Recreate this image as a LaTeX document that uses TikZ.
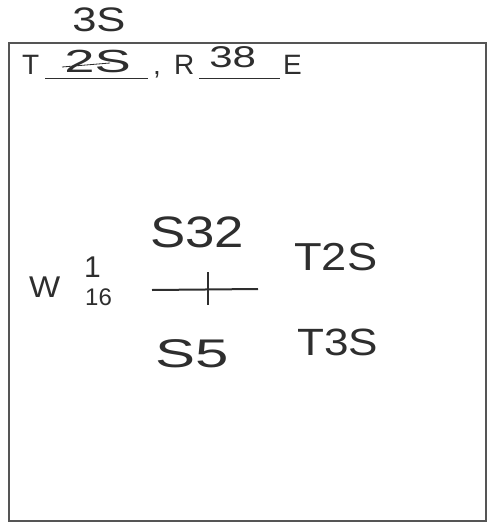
\documentclass[tikz,border=0pt]{standalone}
\usepackage{fontspec}
\setmainfont{Liberation Sans}
\usepackage{xcolor}
\usepackage{tikz}
\definecolor{pencil}{HTML}{2E2E2E}
\definecolor{frame}{HTML}{555555}
\tikzset{
  hand/.style={text=pencil,inner sep=0pt,anchor=base west},
  typed/.style={text=pencil,inner sep=0pt,anchor=base west,font=\fontsize{28}{28}\selectfont},
}
\newcommand{\fs}[1]{\fontsize{#1}{#1}\selectfont}

\begin{document}
\begin{tikzpicture}[x=1pt,y=-1pt]
       \useasboundingbox (0,0) rectangle (489,524);
       % form frame
       \draw[frame,line width=2.5pt] (9,43) rectangle (486,521);
       % header line
       \begin{scope}
         \node[hand,font=\fs{34},xscale=1.28] (top) at (72,32) {3S};
         \node[typed] (tlet) at (22,75) {T};
         \node[hand,font=\fs{32},xscale=1.7] (told) at (64,73) {2S};
         \draw[pencil,thick] (62,67) to (110,63);
         \draw[pencil,thick] (45,78) to (148,78);
         \node[typed] (comma) at (153,75) {,};
         \node[typed] (rlet) at (174,75) {R};
         \node[hand,font=\fs{30},xscale=1.4] (rval) at (209,68) {38};
         \draw[pencil,thick] (199,78) to (280,78);
         \node[typed] (elet) at (283,75) {E};
       \end{scope}
       % fraction and cross
       \begin{scope}
         \node[hand,font=\fs{30},xscale=1.1] (w) at (29,297) {W};
         \node[hand,font=\fs{30}] (num) at (84,277) {1};
         \node[hand,font=\fs{24}] (den) at (85,305) {16};
         \node[hand,font=\fs{44},xscale=1.2] (s32) at (150,247) {S32};
         \node[hand,font=\fs{40},xscale=1.5] (s5) at (155,367) {S5};
         \node[hand,font=\fs{39},xscale=1.16] (t2s) at (294,270) {T2S};
         \node[hand,font=\fs{38},xscale=1.16] (t3s) at (297,355) {T3S};
         \draw[pencil,line width=2pt] (152,290) to (258,289);
         \draw[pencil,line width=2pt] (208,272) to (208,305);
       \end{scope}
     \end{tikzpicture}
\end{document}
